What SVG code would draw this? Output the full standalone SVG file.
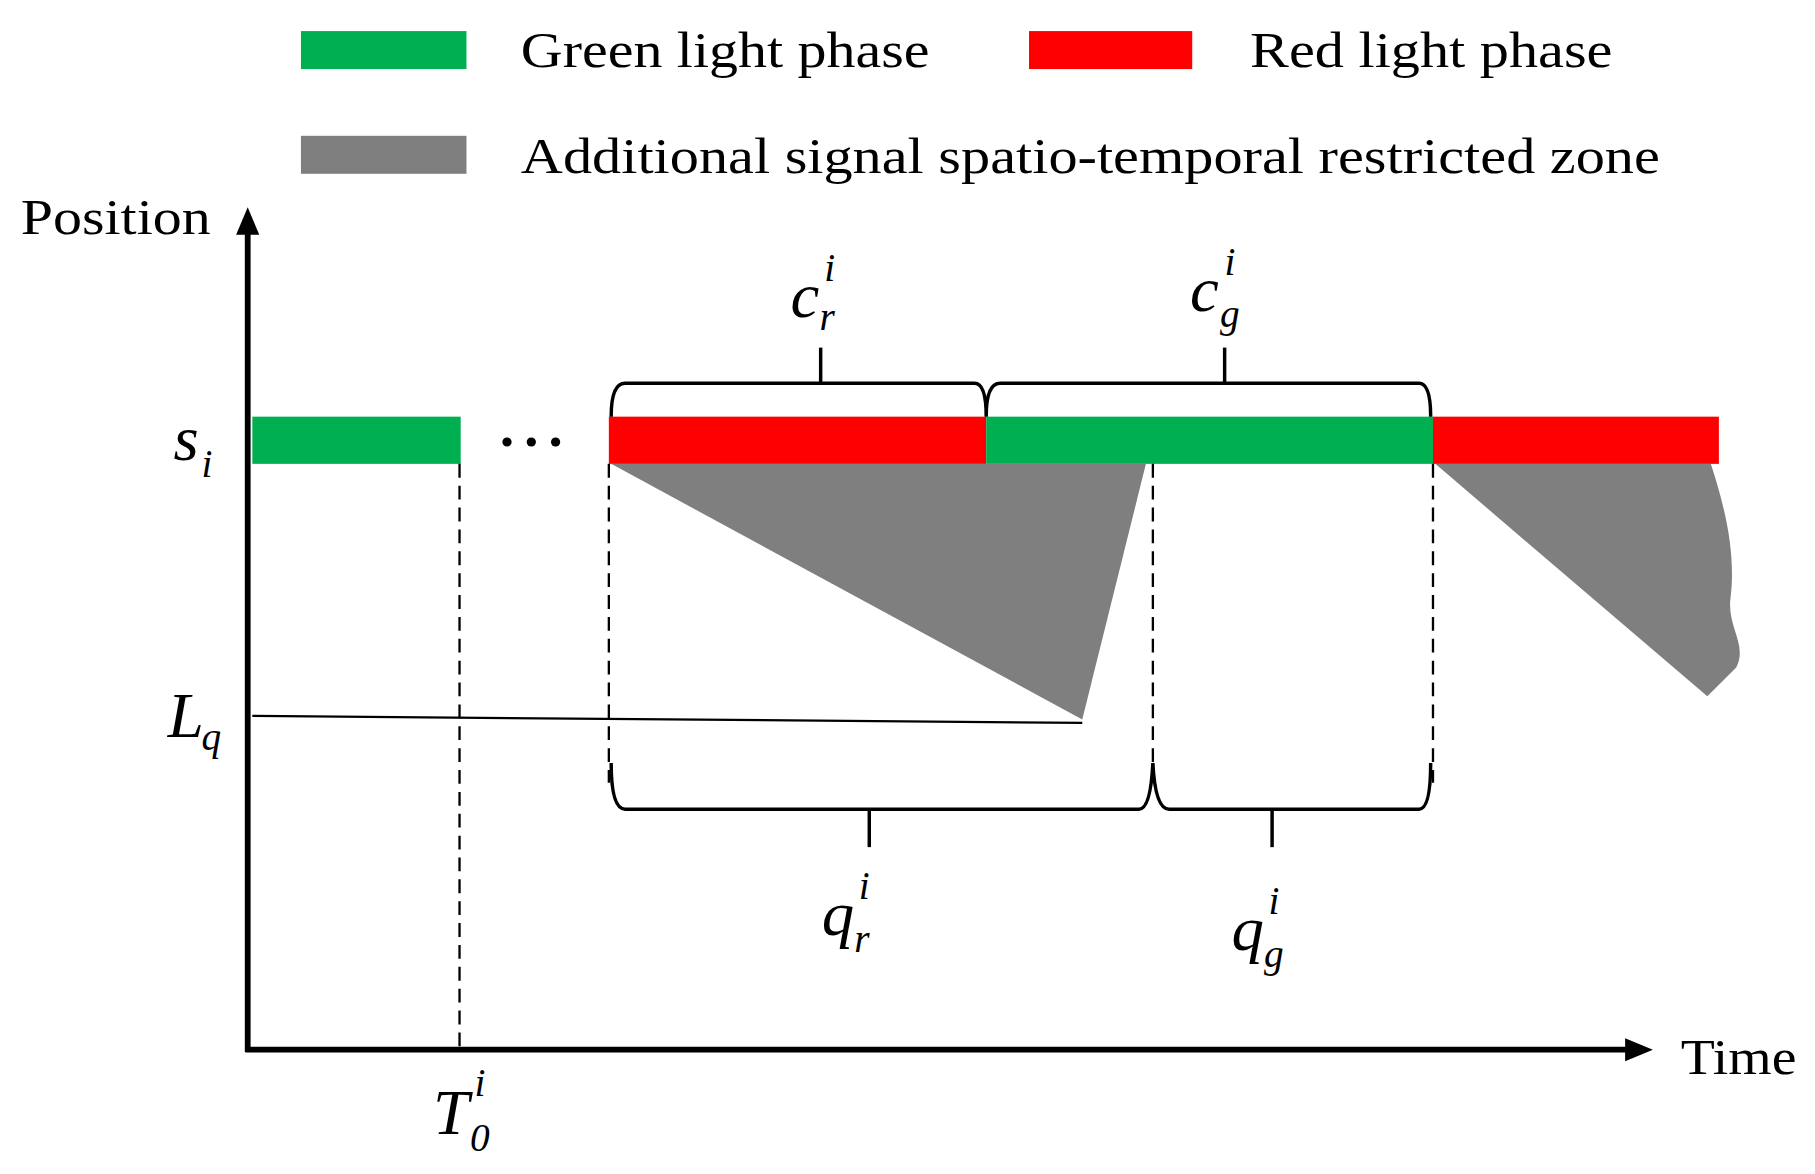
<svg xmlns="http://www.w3.org/2000/svg" width="1815" height="1174" viewBox="0 0 1815 1174">
<style>
.t{font-family:"Liberation Serif",serif;font-size:44px;fill:#000}
.m{font-family:"Liberation Serif",serif;font-style:italic;font-size:56px;fill:#000}
.s{font-family:"Liberation Serif",serif;font-style:italic;font-size:34px;fill:#000}
.d{stroke:#000;stroke-width:2;stroke-dasharray:12,7;fill:none}
.b{stroke:#000;stroke-width:3;fill:none}
</style>
<defs><marker id="ar" markerWidth="24" markerHeight="24" refX="4" refY="12" orient="auto" markerUnits="userSpaceOnUse" viewBox="0 0 24 24"><path d="M0,2 L24,12 L0,22 z" fill="#000"/></marker></defs>
<rect width="1815" height="1174" fill="#fff"/>
<g transform="scale(1.1575,1.151)">
<g id="legend">
<rect x="260" y="27" width="143" height="33" fill="#00b050"/>
<text class="t" x="450" y="58" textLength="353" lengthAdjust="spacingAndGlyphs">Green light phase</text>
<rect x="889" y="27" width="141" height="33" fill="#ff0000"/>
<text class="t" x="1080" y="58" textLength="313" lengthAdjust="spacingAndGlyphs">Red light phase</text>
<rect x="260" y="118" width="143" height="33" fill="#7f7f7f"/>
<text class="t" x="450" y="150" textLength="984" lengthAdjust="spacingAndGlyphs">Additional signal spatio-temporal restricted zone</text>
</g>
<g id="zones">
<polygon points="528,403 990,403 935,625" fill="#7f7f7f"/>
<path d="M1240,403 L1478,403 C1490,440 1500,480 1495,520 C1492,545 1510,560 1500,580 L1475,605 Z" fill="#7f7f7f"/>
</g>
<g id="bars">
<rect x="218" y="362" width="180" height="41" fill="#00b050"/>
<rect x="526" y="362" width="326" height="41" fill="#ff0000"/>
<rect x="852" y="362" width="386" height="41" fill="#00b050"/>
<rect x="1238" y="362" width="247" height="41" fill="#ff0000"/>
<circle cx="438" cy="384" r="4"/><circle cx="459" cy="384" r="4"/><circle cx="480" cy="384" r="4"/>
</g>
<g id="connectors">
<line x1="214" y1="914" x2="214" y2="200" stroke="#000" stroke-width="5" marker-end="url(#ar)"/>
<line x1="212" y1="912" x2="1408" y2="912" stroke="#000" stroke-width="5" marker-end="url(#ar)"/>
<line x1="218" y1="622" x2="935" y2="628" stroke="#000" stroke-width="2"/>
<line class="d" x1="397" y1="403" x2="397" y2="910"/>
<line class="d" x1="526" y1="403" x2="526" y2="680"/>
<line class="d" x1="996" y1="403" x2="996" y2="680"/>
<line class="d" x1="1238" y1="403" x2="1238" y2="680"/>
<path class="b" d="M528,362 Q528,333 540,333 L842,333 Q852,333 852,362 Q852,333 864,333 L1226,333 Q1236,333 1236,362"/>
<line class="b" x1="709" y1="333" x2="709" y2="302"/>
<line class="b" x1="1058" y1="333" x2="1058" y2="302"/>
<path class="b" d="M528,663 Q528,703 540,703 L984,703 Q994,703 996,663 Q998,703 1010,703 L1226,703 Q1236,703 1236,663"/>
<line class="b" x1="751" y1="703" x2="751" y2="736"/>
<line class="b" x1="1099" y1="703" x2="1099" y2="736"/>
</g>
<g id="labels">
<text class="t" x="18" y="203" textLength="164" lengthAdjust="spacingAndGlyphs">Position</text>
<text class="t" x="1452" y="933" textLength="100" lengthAdjust="spacingAndGlyphs">Time</text>
<text class="m" x="150" y="400">s</text><text class="s" x="174" y="414">i</text>
<text class="m" x="145" y="640">L</text><text class="s" x="174" y="652">q</text>
<text class="m" x="683" y="275">c</text><text class="s" x="712" y="244">i</text><text class="s" x="708" y="287">r</text>
<text class="m" x="1028" y="270">c</text><text class="s" x="1058" y="239">i</text><text class="s" x="1054" y="284">g</text>
<text class="m" x="710" y="812">q</text><text class="s" x="742" y="781">i</text><text class="s" x="738" y="827">r</text>
<text class="m" x="1064" y="825">q</text><text class="s" x="1096" y="794">i</text><text class="s" x="1092" y="840">g</text>
<text class="m" x="374" y="985">T</text><text class="s" x="410" y="952">i</text><text class="s" x="406" y="1000">0</text>
</g>
</g>
</svg>
